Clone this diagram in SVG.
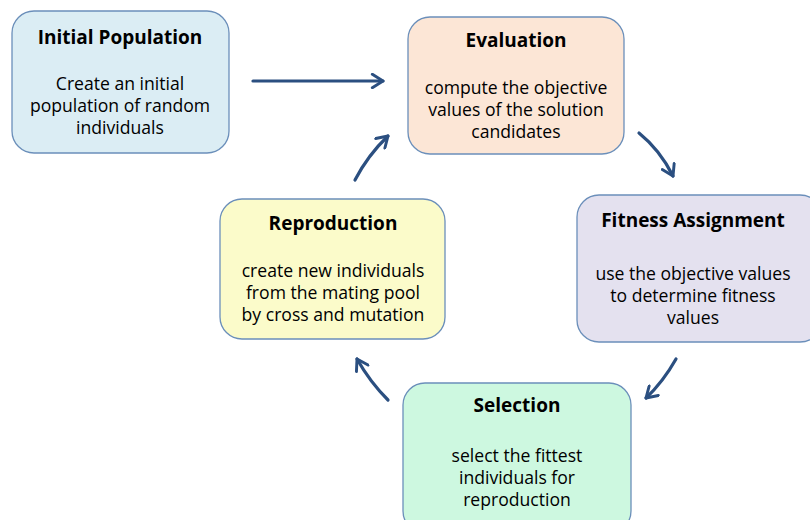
<svg xmlns="http://www.w3.org/2000/svg" width="810" height="520" viewBox="0 0 810 520">
<style>
.box{stroke:#6b8fba;stroke-width:1.3}
.t{font-family:"Open Sans","Liberation Sans",sans-serif;font-weight:bold;font-size:19px;fill:#000;text-anchor:middle}
.b{font-family:"Open Sans","Liberation Sans",sans-serif;font-size:17.6px;fill:#000;text-anchor:middle}
.c{fill:none;stroke:#2b4f80;stroke-width:3.2;stroke-linecap:round}
</style>
<defs>
<marker id="ah" viewBox="0 0 12 12" refX="10" refY="6" markerWidth="5" markerHeight="5" orient="auto" markerUnits="strokeWidth">
<path d="M2,1 L10,6 L2,11" fill="none" stroke="#2b4f80" stroke-width="2.2" stroke-linecap="round" stroke-linejoin="round"/>
</marker>
</defs>
<rect width="810" height="520" fill="#fff"/>
<g id="initial">
<rect class="box" x="12" y="11" width="217" height="142" rx="22" fill="#dbedf4"/>
<text class="t" x="120" y="44">Initial Population</text>
<text class="b" x="120" y="90">Create an initial</text>
<text class="b" x="120" y="112">population of random</text>
<text class="b" x="120" y="134">individuals</text>
</g>
<g id="evaluation">
<rect class="box" x="408" y="17" width="216" height="137" rx="22" fill="#fce6d6"/>
<text class="t" x="516" y="47">Evaluation</text>
<text class="b" x="516" y="94">compute the objective</text>
<text class="b" x="516" y="116">values of the solution</text>
<text class="b" x="516" y="138">candidates</text>
</g>
<g id="fitness">
<rect class="box" x="577" y="195" width="245" height="147" rx="22" fill="#e4e1ef"/>
<text class="t" x="693" y="227">Fitness Assignment</text>
<text class="b" x="693" y="280">use the objective values</text>
<text class="b" x="693" y="302">to determine fitness</text>
<text class="b" x="693" y="324">values</text>
</g>
<g id="reproduction">
<rect class="box" x="220" y="199" width="225" height="140" rx="22" fill="#fbfbca"/>
<text class="t" x="333" y="230">Reproduction</text>
<text class="b" x="333" y="277">create new individuals</text>
<text class="b" x="333" y="299">from the mating pool</text>
<text class="b" x="333" y="321">by cross and mutation</text>
</g>
<g id="selection">
<rect class="box" x="403" y="383" width="228" height="150" rx="22" fill="#cdf8e0"/>
<text class="t" x="517" y="412">Selection</text>
<text class="b" x="517" y="462">select the fittest</text>
<text class="b" x="517" y="484">individuals for</text>
<text class="b" x="517" y="506">reproduction</text>
</g>
<g id="connectors">
<path class="c" d="M253,81 L383,81" marker-end="url(#ah)"/>
<path class="c" d="M355,180 Q368,155 388,136" marker-end="url(#ah)"/>
<path class="c" d="M639,133 Q660,150 673,176" marker-end="url(#ah)"/>
<path class="c" d="M676,359 Q663,382 646,398" marker-end="url(#ah)"/>
<path class="c" d="M388,400 Q370,382 357,359" marker-end="url(#ah)"/>
</g>
</svg>
